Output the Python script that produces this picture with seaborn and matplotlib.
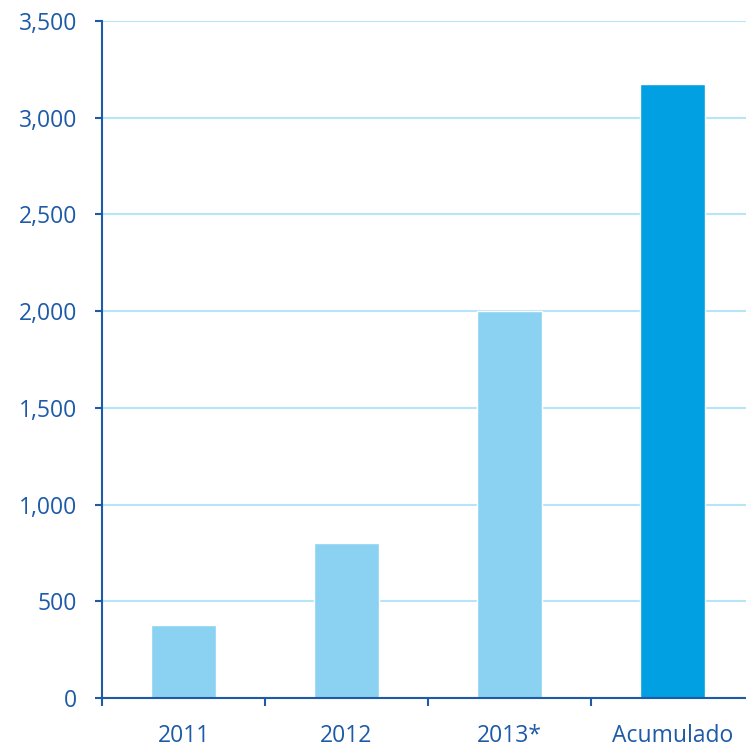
import matplotlib
matplotlib.use("Agg")
import matplotlib.pyplot as plt
import seaborn as sns
from matplotlib.ticker import FuncFormatter, FixedLocator

# Chart data
categories = ["2011", "2012", "2013*", "Acumulado"]
values = [375, 800, 2000, 3175]
bar_colors = ["#8ad1f2", "#8ad1f2", "#8ad1f2", "#00a0e3"]
y_ticks = [0, 500, 1000, 1500, 2000, 2500, 3000, 3500]

axis_blue = "#1d5aa8"
grid_blue = "#b5e6f8"

sns.set_style("white")
plt.rcParams["font.family"] = ["Open Sans", "DejaVu Sans"]

fig = plt.figure(figsize=(7.46, 7.49), dpi=100)
ax = fig.add_axes([102 / 746, 1 - 698 / 749, 1 - 102 / 746, (698 - 21) / 749])

sns.barplot(x=categories, y=values, hue=categories, palette=bar_colors,
            legend=False, width=0.4, saturation=1, ax=ax, zorder=3)

ax.set_ylim(0, 3500)
ax.set_xlim(-0.5, 3.45)
ax.set_yticks(y_ticks)
ax.yaxis.set_major_formatter(FuncFormatter(lambda v, p: f"{int(v):,}"))
ax.grid(axis="y", color=grid_blue, linewidth=1.5, zorder=0)
ax.grid(axis="x", visible=False)

# Category boundary ticks on x axis
ax.xaxis.set_minor_locator(FixedLocator([-0.5, 0.5, 1.5, 2.5]))
ax.tick_params(axis="x", which="major", length=0, pad=19,
               labelsize=16.5, labelcolor=axis_blue)
ax.tick_params(axis="x", which="minor", length=6, width=1.5,
               color=axis_blue, direction="out", bottom=True)
ax.tick_params(axis="y", length=5, width=1.5, color=axis_blue,
               direction="out", left=True, pad=13,
               labelsize=16.5, labelcolor=axis_blue)
for lbl in ax.get_xticklabels() + ax.get_yticklabels():
    lbl.set_fontweight("medium")

for side in ["top", "right"]:
    ax.spines[side].set_visible(False)
for side in ["left", "bottom"]:
    ax.spines[side].set_color(axis_blue)
    ax.spines[side].set_linewidth(1.5)
    ax.spines[side].set_zorder(4)

ax.set_xlabel("")
ax.set_ylabel("")

fig.savefig("out.png", dpi=100)
